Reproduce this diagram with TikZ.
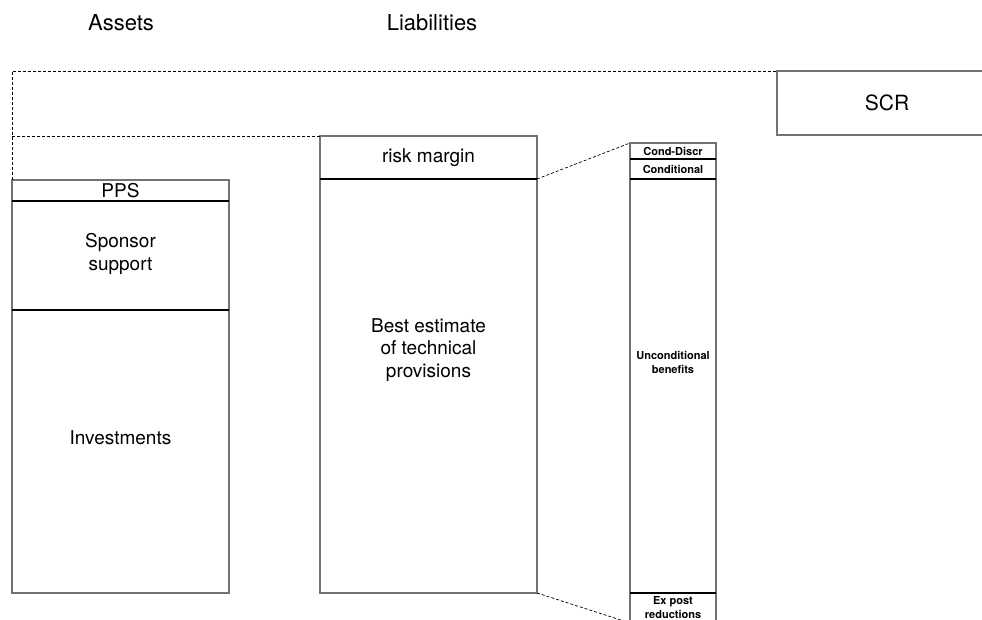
\documentclass[tikz,border=0pt]{standalone}
\usepackage{fontspec}
\setmainfont{TeX Gyre Heros}
\begin{document}
\begin{tikzpicture}[x=1pt,y=-1pt,
  frame/.style={draw=black!55, line width=1.2pt, inner sep=0pt, outer sep=0pt, anchor=north west},
  divider/.style={draw=black, line width=1.6pt},
  guide/.style={draw=black, line width=0.7pt, dash pattern=on 3pt off 2pt},
  big/.style={font=\fontsize{19}{22.5}\selectfont, align=center, inner sep=0pt},
  small/.style={font=\bfseries\fontsize{11}{14}\selectfont, align=center, inner sep=0pt},
  head/.style={font=\fontsize{22}{26}\selectfont, inner sep=0pt}]
\clip (0,0) rectangle (982,620);
% headings
\node[head] (hassets) at (121,23) {Assets};
\node[head] (hliab) at (432,23) {Liabilities};
% assets column
\node[frame, minimum width=217pt, minimum height=21pt] (pps) at (12,180) {};
\node[frame, minimum width=217pt, minimum height=109pt] (sponsor) at (12,201) {};
\node[frame, minimum width=217pt, minimum height=283pt] (invest) at (12,310) {};
\draw[divider] (pps.south west) -- (pps.south east);
\draw[divider] (sponsor.south west) -- (sponsor.south east);
\node[big] (ppslbl) at (pps.center) {PPS};
\node[big] (sponsorlbl) at (120.5,254) {Sponsor\\support};
\node[big] (investlbl) at (120.5,438) {Investments};
% liabilities column
\node[frame, minimum width=217pt, minimum height=43pt] (risk) at (320,136) {};
\node[frame, minimum width=217pt, minimum height=414pt] (best) at (320,179) {};
\draw[divider] (risk.south west) -- (risk.south east);
\node[big] (risklbl) at (risk.center) {risk margin};
\node[big] (bestlbl) at (428.5,350) {Best estimate\\of technical\\provisions};
% narrow breakdown column
\node[frame, minimum width=86pt, minimum height=16pt] (cdiscr) at (630,143) {};
\node[frame, minimum width=86pt, minimum height=20pt] (cond) at (630,159) {};
\node[frame, minimum width=86pt, minimum height=414pt] (uncond) at (630,179) {};
\node[frame, minimum width=86pt, minimum height=30pt] (expost) at (630,593) {};
\draw[divider] (cdiscr.south west) -- (cdiscr.south east);
\draw[divider] (cond.south west) -- (cond.south east);
\draw[divider] (uncond.south west) -- (uncond.south east);
\node[small] (cdiscrlbl) at (cdiscr.center) {Cond-Discr};
\node[small] (condlbl) at (cond.center) {Conditional};
\node[small] (uncondlbl) at (673,362) {Unconditional\\benefits};
\node[small] (expostlbl) at (673,607.5) {Ex post\\reductions};
% SCR
\node[frame, minimum width=223pt, minimum height=64pt] (scr) at (777,71) {};
\node[font=\fontsize{21}{25}\selectfont, inner sep=0pt] (scrlbl) at (887,103) {SCR};
% dashed guides
\draw[guide] (pps.north west) |- (scr.north west);
\draw[guide] (risk.north west) -- (risk.north west -| pps.west);
\draw[guide] (risk.south east) -- (cdiscr.north west);
\draw[guide] (best.south east) -- (expost.south west);
\end{tikzpicture}
\end{document}
